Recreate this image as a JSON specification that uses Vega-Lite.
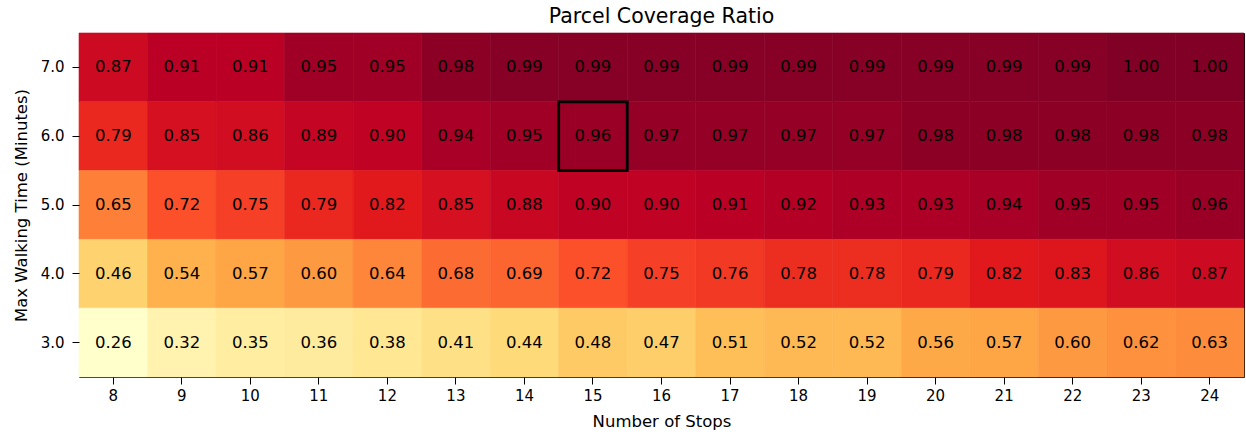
{
  "$schema": "https://vega.github.io/schema/vega-lite/v6.json",
  "autosize": {"type": "none"},
  "padding": {"left": 79, "top": 33, "right": 2, "bottom": 59},
  "width": 1165,
  "height": 344,
  "background": "white",
  "title": {"text": "Parcel Coverage Ratio", "font": "DejaVu Sans", "fontSize": 20.5, "fontWeight": "normal", "color": "black", "offset": 5},
  "config": {
    "view": {"stroke": "black", "strokeWidth": 1}
  },
  "data": {"values": [
    {"stops": 8, "walk": "7.0", "v": 0.87}, {"stops": 9, "walk": "7.0", "v": 0.91}, {"stops": 10, "walk": "7.0", "v": 0.91}, {"stops": 11, "walk": "7.0", "v": 0.95}, {"stops": 12, "walk": "7.0", "v": 0.95}, {"stops": 13, "walk": "7.0", "v": 0.98}, {"stops": 14, "walk": "7.0", "v": 0.99}, {"stops": 15, "walk": "7.0", "v": 0.99}, {"stops": 16, "walk": "7.0", "v": 0.99}, {"stops": 17, "walk": "7.0", "v": 0.99}, {"stops": 18, "walk": "7.0", "v": 0.99}, {"stops": 19, "walk": "7.0", "v": 0.99}, {"stops": 20, "walk": "7.0", "v": 0.99}, {"stops": 21, "walk": "7.0", "v": 0.99}, {"stops": 22, "walk": "7.0", "v": 0.99}, {"stops": 23, "walk": "7.0", "v": 1.00}, {"stops": 24, "walk": "7.0", "v": 1.00},
    {"stops": 8, "walk": "6.0", "v": 0.79}, {"stops": 9, "walk": "6.0", "v": 0.85}, {"stops": 10, "walk": "6.0", "v": 0.86}, {"stops": 11, "walk": "6.0", "v": 0.89}, {"stops": 12, "walk": "6.0", "v": 0.90}, {"stops": 13, "walk": "6.0", "v": 0.94}, {"stops": 14, "walk": "6.0", "v": 0.95}, {"stops": 15, "walk": "6.0", "v": 0.96, "hl": true}, {"stops": 16, "walk": "6.0", "v": 0.97}, {"stops": 17, "walk": "6.0", "v": 0.97}, {"stops": 18, "walk": "6.0", "v": 0.97}, {"stops": 19, "walk": "6.0", "v": 0.97}, {"stops": 20, "walk": "6.0", "v": 0.98}, {"stops": 21, "walk": "6.0", "v": 0.98}, {"stops": 22, "walk": "6.0", "v": 0.98}, {"stops": 23, "walk": "6.0", "v": 0.98}, {"stops": 24, "walk": "6.0", "v": 0.98},
    {"stops": 8, "walk": "5.0", "v": 0.65}, {"stops": 9, "walk": "5.0", "v": 0.72}, {"stops": 10, "walk": "5.0", "v": 0.75}, {"stops": 11, "walk": "5.0", "v": 0.79}, {"stops": 12, "walk": "5.0", "v": 0.82}, {"stops": 13, "walk": "5.0", "v": 0.85}, {"stops": 14, "walk": "5.0", "v": 0.88}, {"stops": 15, "walk": "5.0", "v": 0.90}, {"stops": 16, "walk": "5.0", "v": 0.90}, {"stops": 17, "walk": "5.0", "v": 0.91}, {"stops": 18, "walk": "5.0", "v": 0.92}, {"stops": 19, "walk": "5.0", "v": 0.93}, {"stops": 20, "walk": "5.0", "v": 0.93}, {"stops": 21, "walk": "5.0", "v": 0.94}, {"stops": 22, "walk": "5.0", "v": 0.95}, {"stops": 23, "walk": "5.0", "v": 0.95}, {"stops": 24, "walk": "5.0", "v": 0.96},
    {"stops": 8, "walk": "4.0", "v": 0.46}, {"stops": 9, "walk": "4.0", "v": 0.54}, {"stops": 10, "walk": "4.0", "v": 0.57}, {"stops": 11, "walk": "4.0", "v": 0.60}, {"stops": 12, "walk": "4.0", "v": 0.64}, {"stops": 13, "walk": "4.0", "v": 0.68}, {"stops": 14, "walk": "4.0", "v": 0.69}, {"stops": 15, "walk": "4.0", "v": 0.72}, {"stops": 16, "walk": "4.0", "v": 0.75}, {"stops": 17, "walk": "4.0", "v": 0.76}, {"stops": 18, "walk": "4.0", "v": 0.78}, {"stops": 19, "walk": "4.0", "v": 0.78}, {"stops": 20, "walk": "4.0", "v": 0.79}, {"stops": 21, "walk": "4.0", "v": 0.82}, {"stops": 22, "walk": "4.0", "v": 0.83}, {"stops": 23, "walk": "4.0", "v": 0.86}, {"stops": 24, "walk": "4.0", "v": 0.87},
    {"stops": 8, "walk": "3.0", "v": 0.26}, {"stops": 9, "walk": "3.0", "v": 0.32}, {"stops": 10, "walk": "3.0", "v": 0.35}, {"stops": 11, "walk": "3.0", "v": 0.36}, {"stops": 12, "walk": "3.0", "v": 0.38}, {"stops": 13, "walk": "3.0", "v": 0.41}, {"stops": 14, "walk": "3.0", "v": 0.44}, {"stops": 15, "walk": "3.0", "v": 0.48}, {"stops": 16, "walk": "3.0", "v": 0.47}, {"stops": 17, "walk": "3.0", "v": 0.51}, {"stops": 18, "walk": "3.0", "v": 0.52}, {"stops": 19, "walk": "3.0", "v": 0.52}, {"stops": 20, "walk": "3.0", "v": 0.56}, {"stops": 21, "walk": "3.0", "v": 0.57}, {"stops": 22, "walk": "3.0", "v": 0.60}, {"stops": 23, "walk": "3.0", "v": 0.62}, {"stops": 24, "walk": "3.0", "v": 0.63}
  ]},
  "encoding": {
    "x": {"field": "stops", "type": "ordinal", "title": "Number of Stops", "scale": {"paddingInner": 0, "paddingOuter": 0},
      "axis": {"labelAngle": 0, "labelPadding": 4, "titlePadding": 10, "labelFont": "DejaVu Sans", "titleFont": "DejaVu Sans", "labelFontSize": 15, "titleFontSize": 16.5, "titleFontWeight": "normal", "labelColor": "black", "titleColor": "black", "tickColor": "black", "tickSize": 7, "tickWidth": 1, "domain": false, "grid": false}},
    "y": {"field": "walk", "type": "ordinal", "sort": "descending", "title": "Max Walking Time (Minutes)", "scale": {"paddingInner": 0, "paddingOuter": 0},
      "axis": {"labelAngle": 0, "labelPadding": 8, "titlePadding": 11, "labelFont": "DejaVu Sans", "titleFont": "DejaVu Sans", "labelFontSize": 15, "titleFontSize": 16.5, "titleFontWeight": "normal", "labelColor": "black", "titleColor": "black", "tickColor": "black", "tickSize": 7, "tickWidth": 1, "domain": false, "grid": false}}
  },
  "layer": [
    {
      "mark": {"type": "rect", "strokeWidth": 0.6},
      "encoding": {
        "color": {"field": "v", "type": "quantitative", "legend": null,
          "scale": {"domain": [0.26, 0.3525, 0.445, 0.5375, 0.63, 0.7225, 0.815, 0.9075, 1.0],
                    "range": ["#ffffcc", "#ffeda0", "#fed976", "#feb24c", "#fd8d3c", "#fc4e2a", "#e31a1c", "#bd0026", "#800026"],
                    "interpolate": "rgb"}},
        "stroke": {"field": "v", "type": "quantitative", "legend": null,
          "scale": {"domain": [0.26, 0.3525, 0.445, 0.5375, 0.63, 0.7225, 0.815, 0.9075, 1.0],
                    "range": ["#ffffcc", "#ffeda0", "#fed976", "#feb24c", "#fd8d3c", "#fc4e2a", "#e31a1c", "#bd0026", "#800026"],
                    "interpolate": "rgb"}}
      }
    },
    {
      "mark": {"type": "text", "font": "DejaVu Sans", "fontSize": 16.5, "color": "black", "baseline": "middle", "align": "center"},
      "encoding": {"text": {"field": "v", "type": "quantitative", "format": ".2f"}}
    },
    {
      "transform": [{"filter": "datum.hl === true"}],
      "mark": {"type": "rect", "fill": null, "fillOpacity": 0, "stroke": "black", "strokeWidth": 2.8},
      "encoding": {}
    }
  ]
}
